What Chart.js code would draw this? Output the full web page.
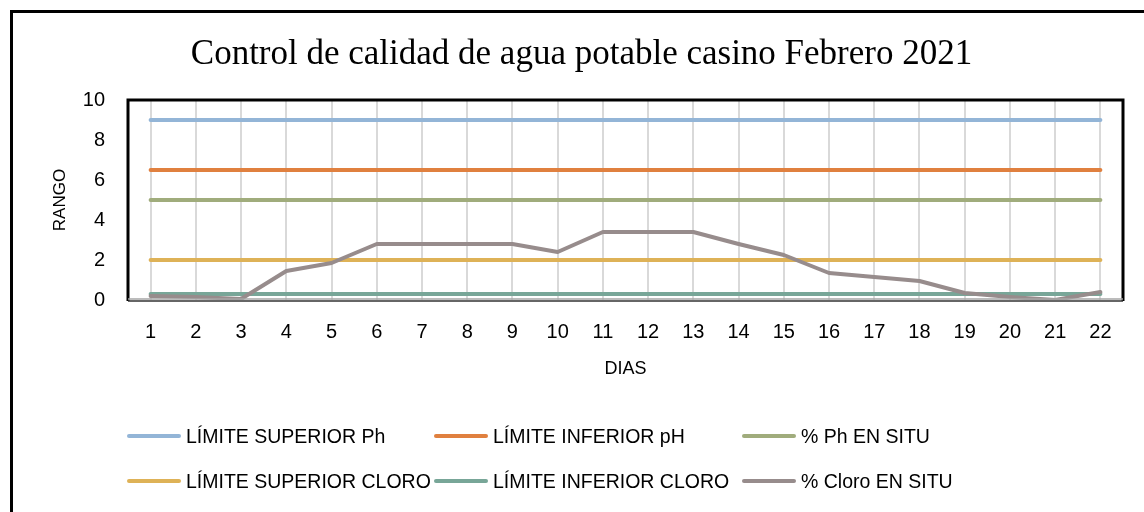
<!DOCTYPE html>
<html><head><meta charset="utf-8">
<script src="https://cdn.jsdelivr.net/npm/chart.js@4.4.1/dist/chart.umd.min.js"></script>
<style>
html,body{margin:0;padding:0;background:#fff;}
#wrap{position:relative;width:1144px;height:512px;overflow:hidden;background:#fff;}
#frame{position:absolute;left:10px;top:10px;width:1300px;height:700px;border-left:3px solid #000;border-top:3px solid #000;}
canvas{position:absolute;left:0;top:0;}
.lg{position:absolute;display:flex;align-items:center;height:24px;font-family:"Liberation Sans",Arial,sans-serif;font-size:19.5px;color:#000;white-space:pre;}
.lg .sw{display:inline-block;width:54px;height:4px;border-radius:2px;margin-right:5px;}
</style></head>
<body><div id="wrap"><div id="frame"></div><canvas id="c" width="1144" height="512"></canvas></div>
<script>
const titulo = 'Control de calidad de agua potable casino Febrero 2021';
const dias = ['1','2','3','4','5','6','7','8','9','10','11','12','13','14','15','16','17','18','19','20','21','22'];
const limiteSuperiorPh    = [9,9,9,9,9,9,9,9,9,9,9,9,9,9,9,9,9,9,9,9,9,9];
const limiteInferiorPh    = [6.5,6.5,6.5,6.5,6.5,6.5,6.5,6.5,6.5,6.5,6.5,6.5,6.5,6.5,6.5,6.5,6.5,6.5,6.5,6.5,6.5,6.5];
const phEnSitu            = [5,5,5,5,5,5,5,5,5,5,5,5,5,5,5,5,5,5,5,5,5,5];
const limiteSuperiorCloro = [2,2,2,2,2,2,2,2,2,2,2,2,2,2,2,2,2,2,2,2,2,2];
const limiteInferiorCloro = [0.3,0.3,0.3,0.3,0.3,0.3,0.3,0.3,0.3,0.3,0.3,0.3,0.3,0.3,0.3,0.3,0.3,0.3,0.3,0.3,0.3,0.3];
const cloroEnSitu         = [0.2,0.15,0.05,1.45,1.85,2.8,2.8,2.8,2.8,2.4,3.4,3.4,3.4,2.8,2.25,1.35,1.15,0.95,0.35,0.15,0,0.4];
const yTicks = [0,2,4,6,8,10];

const series = [
  {label:'LÍMITE SUPERIOR Ph', data:limiteSuperiorPh, color:'#93B5D7'},
  {label:'LÍMITE INFERIOR pH', data:limiteInferiorPh, color:'#E0803F'},
  {label:'% Ph EN SITU', data:phEnSitu, color:'#A0AC7C'},
  {label:'LÍMITE SUPERIOR CLORO', data:limiteSuperiorCloro, color:'#DEB257'},
  {label:'LÍMITE INFERIOR CLORO', data:limiteInferiorCloro, color:'#78A698'},
  {label:'% Cloro EN SITU', data:cloroEnSitu, color:'#978C8C'}
];

const SANS = '"Liberation Sans", Arial, sans-serif';

const plotFrame = {
  id:'plotFrame',
  afterDatasetsDraw(chart){
    const {ctx, chartArea:a} = chart;
    ctx.save();
    ctx.strokeStyle = '#000';
    ctx.lineWidth = 3;
    ctx.beginPath();
    ctx.moveTo(a.left, a.bottom+1);
    ctx.lineTo(a.left, a.top);
    ctx.lineTo(a.right, a.top);
    ctx.lineTo(a.right, a.bottom+1);
    ctx.stroke();
    ctx.lineWidth = 1.5;
    ctx.strokeStyle = '#a6a6a6';
    ctx.beginPath(); ctx.moveTo(a.left, a.bottom-1); ctx.lineTo(a.right, a.bottom-1); ctx.stroke();
    ctx.strokeStyle = '#333';
    ctx.beginPath(); ctx.moveTo(a.left, a.bottom+1); ctx.lineTo(a.right, a.bottom+1); ctx.stroke();
    ctx.restore();
  }
};

const chart = new Chart(document.getElementById('c'), {
  type:'line',
  data:{
    labels:dias,
    datasets:series.map((s,i)=>({
      label:s.label, data:s.data, borderColor:s.color, backgroundColor:s.color,
      borderWidth:4, pointRadius:0, tension:0, borderCapStyle:'round', borderJoinStyle:'round',
      order: i===5 ? 0 : 1
    }))
  },
  options:{
    responsive:false, animation:false,
    layout:{padding:{left:40, right:21, top:20, bottom:122}},
    plugins:{
      legend:{display:false},
      tooltip:{enabled:false},
      title:{display:true, text:titulo, color:'#000',
        font:{family:'"Liberation Serif", "Times New Roman", serif', size:35, weight:'normal'},
        padding:{top:14, bottom:24}}
    },
    scales:{
      x:{
        type:'category', offset:true,
        grid:{display:true, offset:false, color:'#d9d9d9', lineWidth:2, drawTicks:false},
        border:{display:false},
        ticks:{color:'#000', font:{family:SANS, size:20}, padding:20, maxRotation:0, autoSkip:false},
        title:{display:true, text:'DIAS', color:'#000', font:{family:SANS, size:18}, padding:{top:0, bottom:10}},
        afterFit(s){ s.height = 90; }
      },
      y:{
        min:0, max:10,
        afterBuildTicks(s){ s.ticks = yTicks.map(v=>({value:v})); },
        grid:{display:false, drawTicks:false},
        border:{display:false},
        ticks:{color:'#000', font:{family:SANS, size:20}, padding:23},
        title:{display:true, text:'RANGO', color:'#000', font:{family:SANS, size:17}, padding:{top:10, bottom:0}},
        afterFit(s){ s.width = 88; }
      }
    }
  },
  plugins:[plotFrame]
});

// HTML legend built from the chart's datasets, laid out in 3 columns x 2 rows
const colX = [127, 434, 742];
const rowY = [436, 481];
chart.data.datasets.forEach((ds,i)=>{
  const el = document.createElement('div');
  el.className = 'lg';
  el.style.left = colX[i%3] + 'px';
  el.style.top = (rowY[Math.floor(i/3)] - 12) + 'px';
  const sw = document.createElement('span');
  sw.className = 'sw';
  sw.style.background = ds.borderColor;
  el.appendChild(sw);
  el.appendChild(document.createTextNode(ds.label));
  document.getElementById('wrap').appendChild(el);
});
</script>
</body></html>
